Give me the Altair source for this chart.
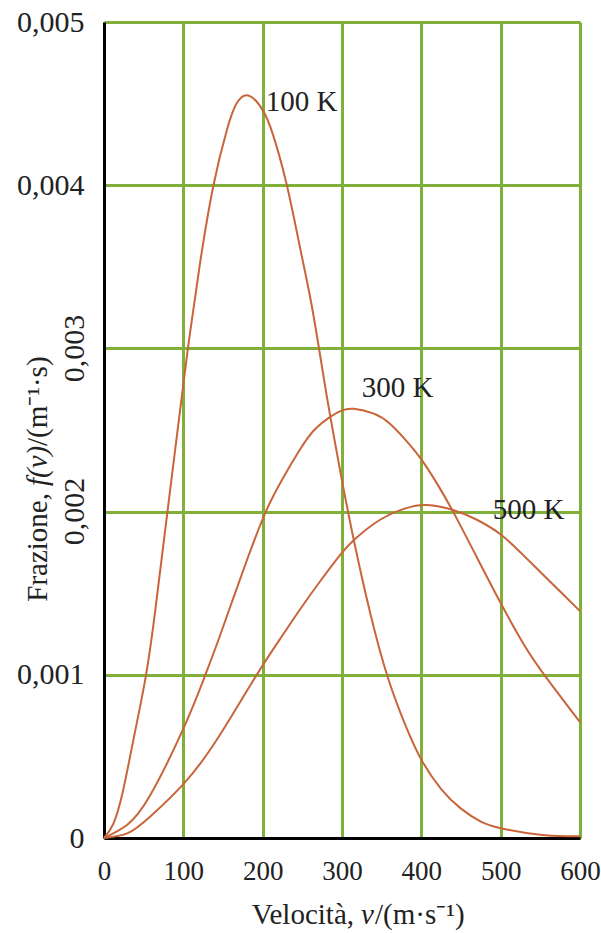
import altair as alt
import pandas as pd

# Maxwell speed distributions read at selected speeds (m/s) for three temperatures
speed_100 = [0, 12, 24, 37, 53, 65, 80, 100, 108, 121, 138, 155, 167, 182, 200, 213, 230,
             247, 260, 270, 277, 285, 300, 308, 316, 335, 358, 380, 400, 425, 450, 475, 500, 550, 600]
frac_100 = [0, 0.00009, 0.00029, 0.00060, 0.00100, 0.00141, 0.00200, 0.00278, 0.00308, 0.00352,
            0.00400, 0.00434, 0.00450, 0.00455, 0.00446, 0.00431, 0.00401, 0.00362, 0.00331,
            0.00303, 0.00282, 0.00259, 0.00219, 0.00199, 0.00180, 0.00139, 0.00098, 0.00069,
            0.00048, 0.00030, 0.00018, 0.00010, 0.00006, 0.00002, 0.00001]

speed_300 = [0, 29, 58, 100, 127, 144, 163, 183, 204, 225, 247, 265, 285, 300, 315, 340, 360,
             380, 400, 420, 440, 470, 500, 530, 558, 600]
frac_300 = [0, 0.00008, 0.00026, 0.00067, 0.00099, 0.00121, 0.00147, 0.00174, 0.00200, 0.00220,
            0.00238, 0.00250, 0.00258, 0.00262, 0.00263, 0.00260, 0.00254, 0.00244, 0.00232,
            0.00217, 0.00200, 0.00172, 0.00144, 0.00118, 0.00098, 0.00071]

speed_500 = [0, 30, 58, 100, 142, 190, 222, 247, 272, 297, 316, 348, 380, 407, 440, 470,
             500, 525, 550, 575, 600]
frac_500 = [0, 0.00003, 0.00013, 0.00033, 0.00060, 0.00098, 0.00122, 0.00140, 0.00157, 0.00173,
            0.00183, 0.00195, 0.00202, 0.00204, 0.00201, 0.00195, 0.00186, 0.00175, 0.00163,
            0.00151, 0.00139]

# Curve labels and where they sit (data coordinates)
label_names = ["100 K", "300 K", "500 K"]
label_speed = [204, 325, 490]
label_frac = [0.00451, 0.00276, 0.00201]

# Tick values
x_ticks = [0, 100, 200, 300, 400, 500, 600]
y_ticks = [0, 0.001, 0.002, 0.003, 0.004, 0.005]
rotated_ticks = [0.003, 0.002]
rotated_text = ["0,003", "0,002"]

CURVE = "#c8653a"
GRID = "#80b03a"
FONT = "Liberation Serif"
INK = "#222222"

curves = pd.concat([
    pd.DataFrame({"v": speed_100, "f": frac_100, "T": "100 K"}),
    pd.DataFrame({"v": speed_300, "f": frac_300, "T": "300 K"}),
    pd.DataFrame({"v": speed_500, "f": frac_500, "T": "500 K"}),
])
labels = pd.DataFrame({"v": label_speed, "f": label_frac, "name": label_names})
rot = pd.DataFrame({"f": rotated_ticks, "txt": rotated_text})

x_scale = alt.Scale(domain=[0, 600], nice=False, zero=True)
y_scale = alt.Scale(domain=[0, 0.005], nice=False, zero=True)

y_label_expr = (
    "(format(datum.value, '.3f') == '0.003' || format(datum.value, '.3f') == '0.002') ? '' : "
    "(datum.value == 0 ? '0' : replace(format(datum.value, '.3f'), '.', ','))"
)

lines = alt.Chart(curves).mark_line(
    color=CURVE, strokeWidth=2, interpolate="natural"
).encode(
    x=alt.X("v:Q", scale=x_scale,
            axis=alt.Axis(values=x_ticks, format="d", title=None, ticks=False,
                          labelPadding=20, labelFontSize=27, labelFont=FONT,
                          labelColor=INK, labelFlush=False, grid=True, gridColor=GRID,
                          gridWidth=3, domainColor="black", domainWidth=3)),
    y=alt.Y("f:Q", scale=y_scale,
            axis=alt.Axis(values=y_ticks, labelExpr=y_label_expr, title=None, ticks=False,
                          labelPadding=20, labelFontSize=30, labelFont=FONT,
                          labelColor=INK, labelFlush=False, grid=True, gridColor=GRID,
                          gridWidth=3, domainColor="black", domainWidth=3)),
    detail="T:N",
)

curve_labels = alt.Chart(labels).mark_text(
    align="left", baseline="middle", font=FONT, fontSize=29, color=INK
).encode(
    x=alt.X("v:Q", scale=x_scale),
    y=alt.Y("f:Q", scale=y_scale),
    text="name:N",
)

rot_labels = alt.Chart(rot).mark_text(
    align="center", baseline="middle", angle=270, font=FONT, fontSize=30, color=INK
).encode(
    x=alt.value(-29),
    y=alt.Y("f:Q", scale=y_scale),
    text="txt:N",
)

title_df = pd.DataFrame({"k": [0]})


def piece(text, x, y, align, angle=0, italic=False):
    return alt.Chart(title_df).mark_text(
        text=text, align=align, baseline="middle", angle=angle, font=FONT,
        fontSize=29, color=INK, fontStyle="italic" if italic else "normal"
    ).encode(x=alt.value(x), y=alt.value(y))


# x-axis title: Velocità, ν/(m·s⁻¹)
x_title = [
    piece("Velocità,", 250, 893, "right"),
    piece("ν", 257, 893, "left", italic=True),
    piece("/(m·s⁻¹)", 271, 893, "left"),
]

# y-axis title, rotated: Frazione, f(v)/(m⁻¹·s)
y_title = [
    piece("Frazione,", -66, 471, "right", angle=270),
    piece("f(v)", -66, 464, "left", angle=270, italic=True),
    piece("/(m⁻¹·s)", -66, 424, "left", angle=270),
]

chart = alt.layer(
    lines, curve_labels, rot_labels, *x_title, *y_title
).properties(
    width=476, height=816,
    autosize=alt.AutoSizeParams(type="none"),
    padding={"left": 104, "top": 22, "right": 21, "bottom": 95},
).configure_view(strokeWidth=0)

chart.save("out.html", embed_options={"renderer": "svg", "actions": False})
